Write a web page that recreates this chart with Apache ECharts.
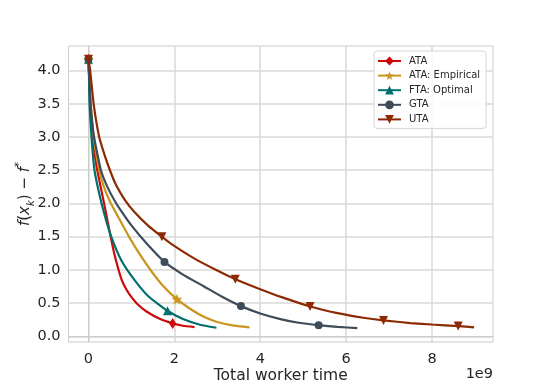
<!DOCTYPE html>
<html>
<head>
<meta charset="utf-8">
<script src="https://cdn.jsdelivr.net/npm/echarts@6/dist/echarts.min.js"></script>
<style>html,body{margin:0;padding:0;background:#fff;}#c{width:548px;height:384px;}</style>
</head>
<body>
<div id="c"></div>
<script>
// x values in units of 1e9 (total worker time), y = f(x_k) - f*
const seriesNames = ['ATA', 'ATA: Empirical', 'FTA: Optimal', 'GTA', 'UTA'];
const xTicks = [0, 2, 4, 6, 8];
const yTicks = [0, 0.5, 1.0, 1.5, 2.0, 2.5, 3.0, 3.5, 4.0];

const ata = [[0,4.17],[0.01,4.0],[0.04,3.5],[0.1,3.0],[0.19,2.55],[0.3,2.2],[0.41,1.85],[0.51,1.52],[0.61,1.22],[0.71,0.98],[0.78,0.84],[0.88,0.71],[0.98,0.61],[1.15,0.48],[1.36,0.37],[1.67,0.26],[1.96,0.195],[2.2,0.16],[2.47,0.14]];
const ataMarks = [0, 16];

const ataEmp = [[0,4.17],[0.01,4.0],[0.05,3.5],[0.12,3.0],[0.25,2.5],[0.36,2.25],[0.50,2.03],[0.74,1.74],[0.98,1.46],[1.25,1.18],[1.5,0.95],[1.75,0.75],[2.06,0.56],[2.4,0.40],[2.7,0.29],[3.0,0.215],[3.35,0.165],[3.75,0.135]];
const ataEmpMarks = [0, 12];

const fta = [[0,4.17],[0.01,4.0],[0.025,3.5],[0.07,3.0],[0.14,2.5],[0.25,2.15],[0.37,1.84],[0.53,1.50],[0.76,1.15],[1.07,0.85],[1.4,0.6],[1.84,0.385],[2.2,0.26],[2.6,0.175],[2.98,0.13]];
const ftaMarks = [0, 11];

const gta = [[0,4.17],[0.01,4.0],[0.05,3.5],[0.13,3.0],[0.29,2.5],[0.44,2.25],[0.62,2.03],[0.8,1.85],[1.0,1.67],[1.35,1.40],[1.77,1.12],[2.2,0.93],[2.68,0.755],[3.1,0.60],[3.55,0.455],[4.0,0.345],[4.47,0.26],[4.9,0.205],[5.36,0.168],[5.8,0.142],[6.26,0.125]];
const gtaMarks = [0, 10, 14, 18];

const uta = [[0,4.17],[0.04,4.0],[0.12,3.5],[0.25,3.0],[0.38,2.72],[0.5,2.5],[0.64,2.28],[0.85,2.05],[1.07,1.87],[1.4,1.66],[1.71,1.50],[1.91,1.40],[2.47,1.17],[3.0,0.99],[3.42,0.86],[4.0,0.71],[4.5,0.59],[5.16,0.45],[5.8,0.35],[6.4,0.28],[6.87,0.24],[7.5,0.20],[8.0,0.178],[8.61,0.155],[8.98,0.135]];
const utaMarks = [0, 10, 14, 17, 20, 23];

const colors = ['#cc0a0a', '#c9951c', '#00706e', '#3d4b5a', '#8c2a04'];
const starPath = 'path://M0,-10 L2.35,-3.24 L9.51,-3.09 L3.8,1.24 L5.88,8.09 L0,4 L-5.88,8.09 L-3.8,1.24 L-9.51,-3.09 L-2.35,-3.24Z';
const symbols = ['diamond', starPath, 'triangle', 'circle', 'triangle'];
const symbolSizes = [[7, 11], 11, 9, 8, 9];
const symbolRotates = [0, 0, 0, 0, 180];
const allData = [ata, ataEmp, fta, gta, uta];
const allMarks = [ataMarks, ataEmpMarks, ftaMarks, gtaMarks, utaMarks];

const txt = '#262626';
const font = 'DejaVu Sans';

const series = seriesNames.map((name, s) => ({
  name: name,
  type: 'line',
  data: allData[s].map((p, i) => allMarks[s].includes(i) ? {value: p} : {value: p, symbol: 'none'}),
  smooth: 0.15,
  showAllSymbol: true,
  symbol: symbols[s],
  symbolSize: symbolSizes[s],
  symbolRotate: symbolRotates[s],
  lineStyle: {color: colors[s], width: 2.2},
  itemStyle: {color: colors[s], borderWidth: 0},
  color: colors[s],
  animation: false,
  z: 2 + s
}));

const chart = echarts.init(document.getElementById('c'), null, {renderer: 'canvas'});
chart.setOption({
  backgroundColor: '#ffffff',
  animation: false,
  textStyle: {fontFamily: font, color: txt},
  grid: {left: 68.5, right: 55, top: 46, bottom: 42, show: true, borderColor: '#cccccc', borderWidth: 1,
    containLabel: false, outerBoundsMode: 'none'},
  legend: {
    data: seriesNames,
    orient: 'vertical',
    left: 374, top: 51,
    padding: [4, 6, 3, 3],
    itemWidth: 23, itemHeight: 11, itemGap: 2.6,
    backgroundColor: 'rgba(255,255,255,0.85)',
    borderColor: '#d6d6d6', borderWidth: 1, borderRadius: 3,
    textStyle: {fontFamily: font, fontSize: 10, color: txt, lineHeight: 12, padding: [0, 0, 0, 3]}
  },
  xAxis: {
    type: 'value', min: -0.465, max: 9.42,
    name: 'Total worker time', nameLocation: 'middle', nameGap: 26, nameMoveOverlap: false,
    nameTextStyle: {fontFamily: font, fontSize: 15.5, color: txt},
    axisLine: {show: true, lineStyle: {color: '#cccccc', width: 1}},
    axisTick: {show: false, customValues: xTicks},
    axisLabel: {customValues: xTicks, fontFamily: font, fontSize: 14.5, color: txt, margin: 10},
    splitLine: {show: true, lineStyle: {color: '#d8d8d8', width: 1.5}}
  },
  yAxis: {
    type: 'value', min: -0.085, max: 4.37,
    name: '{i|f}({i|x}{s|k}) − {i|f}{p|*}', nameLocation: 'middle', nameGap: 32, nameRotate: 90, nameMoveOverlap: false,
    nameTextStyle: {
      fontFamily: font, fontSize: 15, color: txt,
      rich: {
        i: {fontFamily: font, fontStyle: 'italic', fontSize: 15, color: txt},
        s: {fontFamily: font, fontStyle: 'italic', fontSize: 10, color: txt, verticalAlign: 'bottom', lineHeight: 22},
        p: {fontFamily: font, fontSize: 10, color: txt, verticalAlign: 'top', lineHeight: 22}
      }
    },
    axisLine: {show: true, lineStyle: {color: '#cccccc', width: 1}},
    axisTick: {show: false, customValues: yTicks},
    axisLabel: {customValues: yTicks, fontFamily: font, fontSize: 14.5, color: txt, margin: 8,
      formatter: v => v.toFixed(1)},
    splitLine: {show: true, lineStyle: {color: '#d8d8d8', width: 1.5}}
  },
  graphic: [{
    type: 'text', right: 55, top: 367,
    style: {text: '1e9', fontFamily: font, fontSize: 14.5, fill: txt}
  }],
  series: series
});
</script>
</body>
</html>
